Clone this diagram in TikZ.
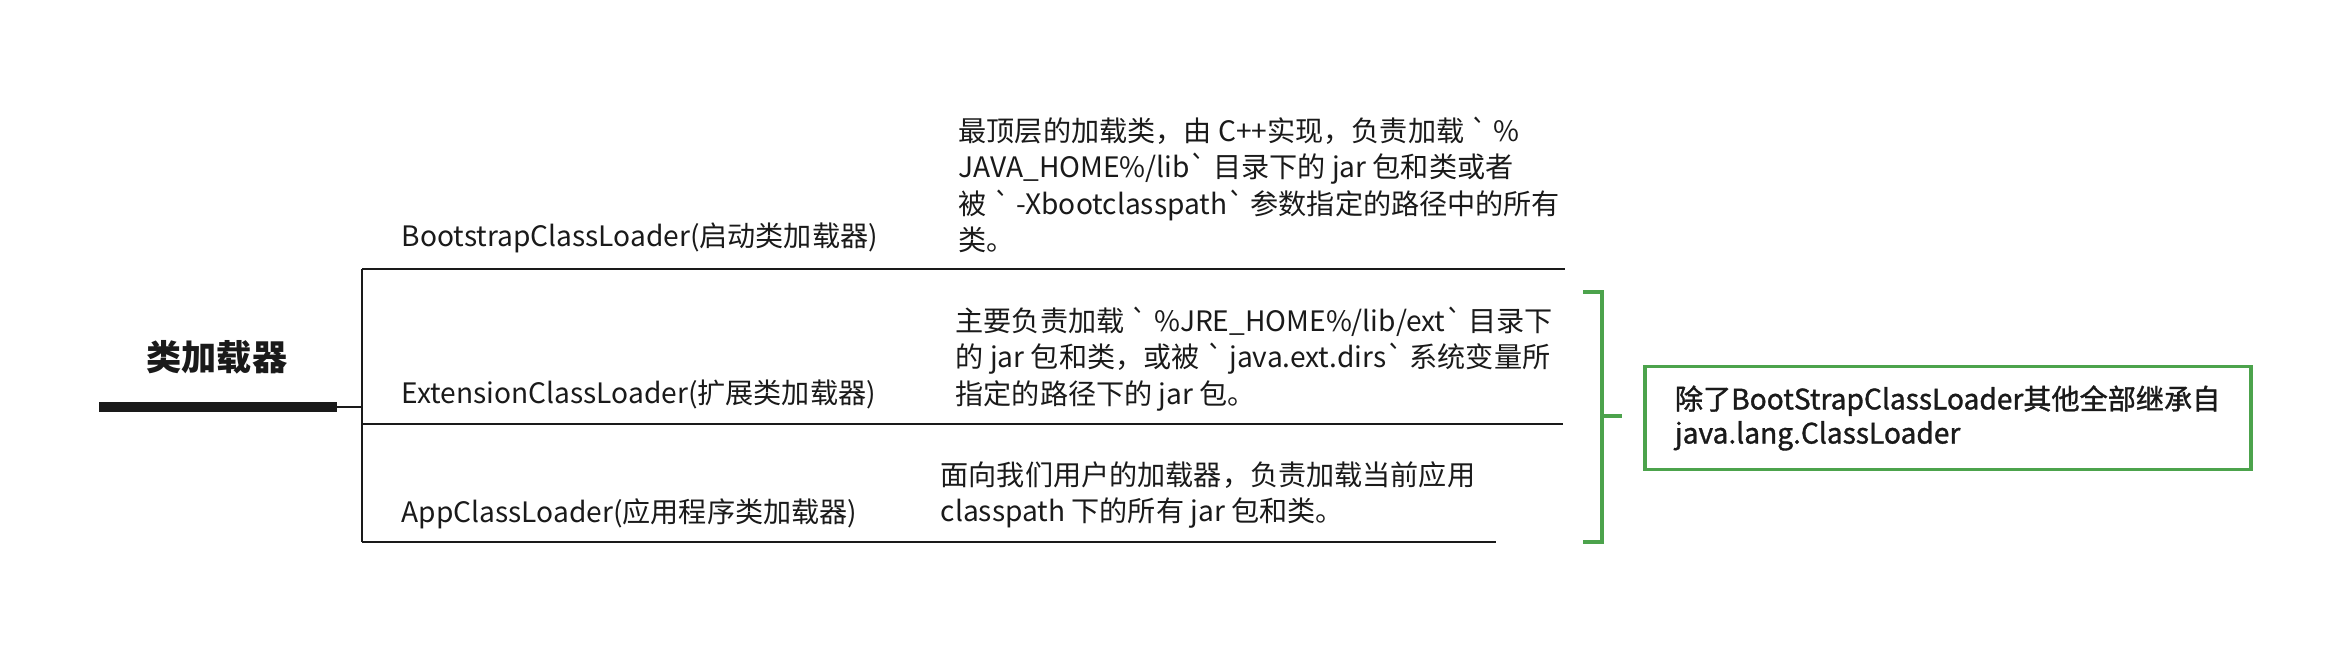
\documentclass[tikz,border=0pt]{standalone}
\usepackage{fontspec}
\newfontfamily\cjkfont{Noto Sans CJK SC}
\newfontfamily\notefont{Noto Sans CJK SC}[FakeBold=1.2]
\usepackage{tikz}
\usetikzlibrary{positioning}
\definecolor{inkBlack}{RGB}{26,26,26}
\definecolor{noteGreen}{RGB}{76,163,76}

\begin{document}
\begin{tikzpicture}[x=0.01cm,y=-0.01cm,
  title/.style={font=\cjkfont\bfseries\fontsize{10}{12}\selectfont,text=inkBlack,inner sep=0pt},
  lbl/.style={anchor=west,font=\cjkfont\fontsize{8}{10.4}\selectfont,text=inkBlack,inner sep=0pt},
  desc/.style={anchor=west,align=left,font=\cjkfont\fontsize{8}{10.4}\selectfont,
               text=inkBlack,inner sep=0pt},
  note/.style={rectangle,draw=noteGreen,line width=1.1pt,anchor=west,
               minimum width=6.06cm,minimum height=1.03cm,text width=5.46cm,align=left,
               inner sep=0pt,font=\notefont\fontsize{8}{9.7}\selectfont,text=inkBlack},
  rule/.style={draw=inkBlack,line width=0.8pt},
  bar/.style={draw=inkBlack,line width=2.85pt},
  brace/.style={draw=noteGreen,line width=1.1pt}
]
  \useasboundingbox (0,0) rectangle (2348,646);
  \node[title](root) at (217,357) {类加载器};
  \node[lbl](boot) at (401,238) {BootstrapClassLoader(启动类加载器)};
  \node[lbl](ext)  at (401,394) {ExtensionClassLoader(扩展类加载器)};
  \node[lbl](app)  at (401,514) {AppClassLoader(应用程序类加载器)};
  \node[desc](bootdesc) at (958,185) {最顶层的加载类，由 C++实现，负责加载 ` \%\\
      JAVA\_HOME\%/lib` 目录下的 jar 包和类或者\\
      被 ` -Xbootclasspath` 参数指定的路径中的所有\\
      类。};
  \node[desc](extdesc) at (955,359) {主要负责加载 ` \%JRE\_HOME\%/lib/ext`  目录下\\
      的 jar 包和类，或被 ` java.ext.dirs`  系统变量所\\
      指定的路径下的 jar 包。};
  \node[desc](appdesc) at (940,495) {面向我们用户的加载器，负责加载当前应用\\
      classpath 下的所有 jar 包和类。};
  \node[note](inherit) at (1643,418) {除了BootStrapClassLoader其他全部继承自\\
      java.lang.ClassLoader};
  % underline of the root and the fork
  \coordinate (barL) at (99,407);  \coordinate (barR) at (337,407);
  \coordinate (fork) at (362,407);
  \coordinate (bootL) at (362,269); \coordinate (bootR) at (1565,269);
  \coordinate (extL) at (362,424);  \coordinate (extR) at (1563,424);
  \coordinate (appL) at (362,542);  \coordinate (appR) at (1496,542);
  \draw[bar](barL)--(barR);
  \draw[rule](barR)--(fork);
  \draw[rule](bootL)--(appL);
  \draw[rule](bootL)--(bootR); \draw[rule](extL)--(extR); \draw[rule](appL)--(appR);
  % green bracket
  \coordinate (brT) at (1583,292); \coordinate (brB) at (1583,542);
  \coordinate (brM) at (1602,416);
  \draw[brace](brT)--++(19,0)|-(brB);
  \draw[brace](brM)--++(20,0);
\end{tikzpicture}
\end{document}
